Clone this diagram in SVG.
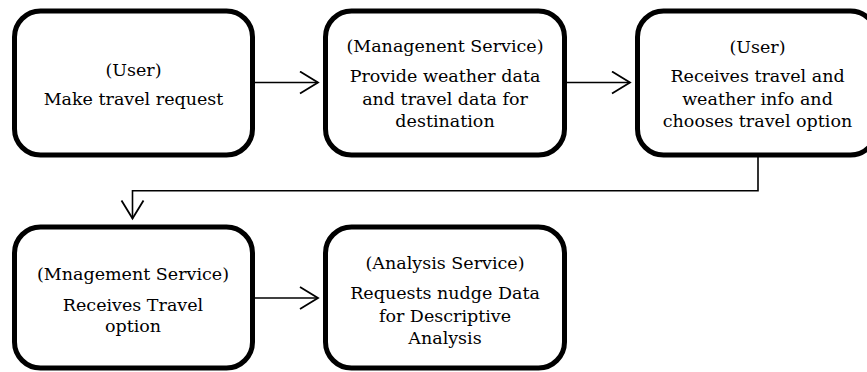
<svg xmlns="http://www.w3.org/2000/svg" width="867" height="372" viewBox="0 0 867 372">
  <defs>
    <style>
      .box { fill: #ffffff; stroke: #000000; stroke-width: 5; }
      .lbl { font-family: "DejaVu Serif", "Liberation Serif", serif; font-size: 17.5px; fill: #000000; text-anchor: middle; }
      .wire { fill: none; stroke: #000000; stroke-width: 1.6; }
    </style>
    <marker id="open" markerUnits="userSpaceOnUse" markerWidth="24" markerHeight="26" refX="20" refY="12" orient="auto">
      <path d="M2,1 L20,12 L2,23" fill="none" stroke="#000000" stroke-width="1.8"/>
    </marker>
  </defs>

  <rect width="867" height="372" fill="#ffffff"/>

  <g id="connectors">
    <line class="wire" x1="255" y1="82.5" x2="318" y2="82.5" marker-end="url(#open)"/>
    <line class="wire" x1="567" y1="82.5" x2="630" y2="82.5" marker-end="url(#open)"/>
    <polyline class="wire" points="758,157 758,190.7 132.5,190.7 132.5,218.5" marker-end="url(#open)"/>
    <line class="wire" x1="255" y1="298" x2="318" y2="298" marker-end="url(#open)"/>
  </g>

  <g id="node-make-request">
    <rect class="box" x="14.5" y="11" width="238" height="144" rx="26"/>
    <text class="lbl" x="133.5" y="76">(User)</text>
    <text class="lbl" x="133.5" y="105">Make travel request</text>
  </g>

  <g id="node-provide-data">
    <rect class="box" x="325.5" y="11" width="239" height="144" rx="26"/>
    <text class="lbl" x="445" y="52">(Managenent Service)</text>
    <text class="lbl" x="445" y="82">Provide weather data</text>
    <text class="lbl" x="445" y="104.5">and travel data for</text>
    <text class="lbl" x="445" y="127">destination</text>
  </g>

  <g id="node-choose-option">
    <rect class="box" x="637.5" y="11" width="239" height="144" rx="26"/>
    <text class="lbl" x="757.5" y="53">(User)</text>
    <text class="lbl" x="757.5" y="82">Receives travel and</text>
    <text class="lbl" x="757.5" y="104.5">weather info and</text>
    <text class="lbl" x="757.5" y="127">chooses travel option</text>
  </g>

  <g id="node-receive-option">
    <rect class="box" x="14.5" y="227" width="238" height="141" rx="26"/>
    <text class="lbl" x="133" y="280">(Mnagement Service)</text>
    <text class="lbl" x="133" y="310.5">Receives Travel</text>
    <text class="lbl" x="133" y="332">option</text>
  </g>

  <g id="node-request-nudge">
    <rect class="box" x="325.5" y="227" width="239" height="141" rx="26"/>
    <text class="lbl" x="445" y="269">(Analysis Service)</text>
    <text class="lbl" x="445" y="298.5">Requests nudge Data</text>
    <text class="lbl" x="445" y="321.5">for Descriptive</text>
    <text class="lbl" x="445" y="344">Analysis</text>
  </g>
</svg>
